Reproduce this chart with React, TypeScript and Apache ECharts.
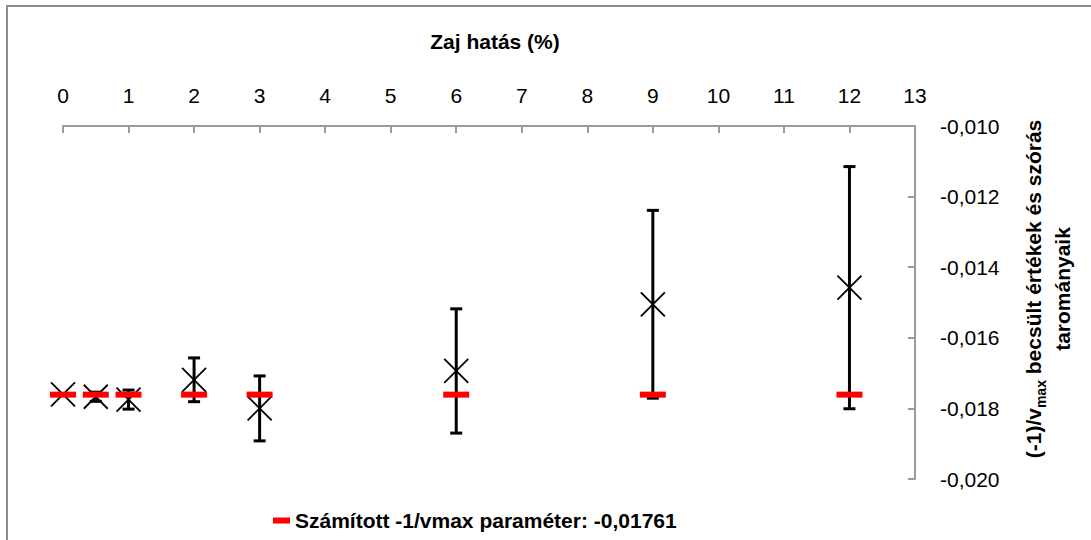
import React, { useEffect, useRef } from "react";
import * as echarts from "echarts";

// Noise effect (%) levels
const noiseLevels = [0, 0.5, 1, 2, 3, 6, 9, 12];
// Estimated (-1)/vmax mean values
const estimatedValues = [-0.0176, -0.01767, -0.01775, -0.01719, -0.018, -0.01694, -0.01505, -0.01458];
// Standard deviation ranges
const stdDevValues = [0, 0.00013, 0.00027, 0.00062, 0.00092, 0.00176, 0.00266, 0.00343];
// Calculated parameter
const calculatedValue = -0.01761;
const xTicks = { min: 0, max: 13, interval: 1 };
const yTicks = { min: -0.02, max: -0.01, interval: 0.002 };

const FONT = "'Liberation Sans', Arial, sans-serif";
const legendName = "Számított -1/vmax paraméter: -0,01761";

export default function App() {
  const ref = useRef<HTMLDivElement>(null);
  useEffect(() => {
    document.body.style.margin = "0";
    if (!ref.current) return;
    const chart = echarts.init(ref.current, null, { renderer: "svg" });
    const errData = noiseLevels.map((x, i) => [x, estimatedValues[i], stdDevValues[i]]);
    const calcData = noiseLevels.map((x) => [x, calculatedValue]);
    chart.setOption({
      animation: false,
      backgroundColor: "#ffffff",
      textStyle: { fontFamily: FONT },
      grid: { left: 63, right: 176, top: 126, bottom: 61, containLabel: false },
      legend: {
        left: 268,
        top: 505,
        icon: "rect",
        itemWidth: 17,
        itemHeight: 6,
        itemGap: 10,
        data: [legendName],
        itemStyle: { opacity: 1 },
        textStyle: { fontFamily: FONT, fontSize: 21, fontWeight: "bold", color: "#000" },
      },
      xAxis: {
        type: "value",
        position: "top",
        min: xTicks.min,
        max: xTicks.max,
        interval: xTicks.interval,
        name: "Zaj hatás (%)",
        nameLocation: "middle",
        nameGap: 74,
        nameTextStyle: {
          fontFamily: FONT,
          fontSize: 21,
          fontWeight: "bold",
          color: "#000",
          padding: [0, 0, 0, 12],
        },
        axisLine: { show: true, onZero: false, lineStyle: { color: "#9a9a9a", width: 2 } },
        axisTick: { show: true, inside: true, length: 7, lineStyle: { color: "#9a9a9a", width: 2 } },
        axisLabel: { fontFamily: FONT, fontSize: 21, color: "#000", margin: 20 },
        splitLine: { show: false },
      },
      yAxis: {
        type: "value",
        position: "right",
        min: yTicks.min,
        max: yTicks.max,
        interval: yTicks.interval,
        axisLine: { show: true, onZero: false, lineStyle: { color: "#9a9a9a", width: 2 } },
        axisTick: { show: true, inside: true, length: 7, lineStyle: { color: "#9a9a9a", width: 2 } },
        axisLabel: {
          fontFamily: FONT,
          fontSize: 21,
          color: "#000",
          margin: 25,
          formatter: (v: number) => v.toFixed(3).replace(".", ","),
        },
        splitLine: { show: false },
      },
      graphic: [
        {
          type: "rect",
          shape: { x: 7, y: 6, width: 1120, height: 600 },
          style: { fill: "none", stroke: "#8c8c8c", lineWidth: 2 },
          silent: true,
          z: -10,
        },
        {
          type: "text",
          x: 1048,
          y: 289,
          rotation: Math.PI / 2,
          style: {
            text:
              "{b|(-1)/v}{sub|max}{b| becsült értékek és szórás}\n{b|tarományaik}",
            align: "center",
            verticalAlign: "middle",
            rich: {
              b: { fontFamily: FONT, fontSize: 21, fontWeight: "bold", fill: "#000", lineHeight: 29 },
              sub: {
                fontFamily: FONT,
                fontSize: 14,
                fontWeight: "bold",
                fill: "#000",
                lineHeight: 29,
                verticalAlign: "bottom",
                padding: [8, 0, 0, 0],
              },
            },
          },
        },
      ],
      series: [
        {
          type: "custom",
          name: "errors",
          clip: false,
          z: 2,
          data: errData,
          encode: { x: 0, y: 1 },
          renderItem: (params: any, api: any) => {
            const x = api.value(0);
            const m = api.value(1);
            const s = api.value(2);
            const c = api.coord([x, m]);
            const children: any[] = [];
            if (s > 0) {
              const top = api.coord([x, m + s]);
              const bot = api.coord([x, m - s]);
              const bar = { stroke: "#000", lineWidth: 3 };
              children.push({ type: "line", shape: { x1: c[0], y1: top[1], x2: c[0], y2: bot[1] }, style: bar });
              children.push({ type: "line", shape: { x1: c[0] - 6, y1: top[1], x2: c[0] + 6, y2: top[1] }, style: bar });
              children.push({ type: "line", shape: { x1: c[0] - 6, y1: bot[1], x2: c[0] + 6, y2: bot[1] }, style: bar });
            }
            const xs = { stroke: "#000", lineWidth: 1.8 };
            children.push({ type: "line", shape: { x1: c[0] - 12, y1: c[1] - 12, x2: c[0] + 12, y2: c[1] + 12 }, style: xs });
            children.push({ type: "line", shape: { x1: c[0] - 12, y1: c[1] + 12, x2: c[0] + 12, y2: c[1] - 12 }, style: xs });
            return { type: "group", children };
          },
        },
        {
          type: "scatter",
          name: legendName,
          z: 5,
          symbol: "rect",
          symbolSize: [26, 6],
          itemStyle: { color: "#ff0000", opacity: 1 },
          data: calcData,
        },
      ],
    });
    return () => chart.dispose();
  }, []);
  return <div ref={ref} style={{ width: 1091, height: 540 }} />;
}
